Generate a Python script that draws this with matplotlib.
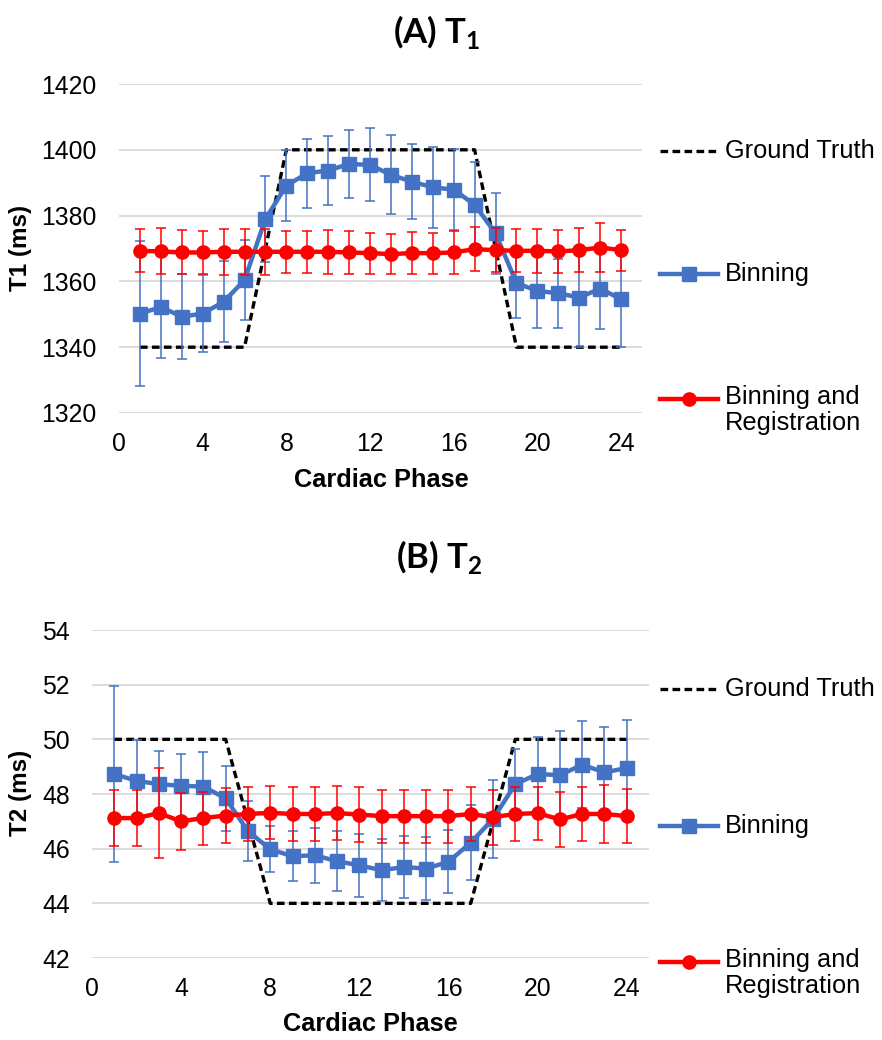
#!/usr/bin/env python3
"""T1 / T2 vs cardiac phase: ground truth, binning, binning + registration."""

import matplotlib
matplotlib.use("Agg")
import matplotlib.pyplot as plt
from matplotlib.lines import Line2D

plt.rcParams["font.family"] = ["Liberation Sans", "DejaVu Sans"]
plt.rcParams["mathtext.fontset"] = "custom"
plt.rcParams["mathtext.rm"] = "Lato"
plt.rcParams["mathtext.bf"] = "Lato:bold"

# ── Data ───────────────────────────────────────────────────────────────────
PHASE = [1, 2, 3, 4, 5, 6, 7, 8, 9, 10, 11, 12,
         13, 14, 15, 16, 17, 18, 19, 20, 21, 22, 23, 24]

T1_TRUTH = [1340, 1340, 1340, 1340, 1340, 1340, 1370, 1400, 1400, 1400, 1400, 1400,
            1400, 1400, 1400, 1400, 1400, 1370, 1340, 1340, 1340, 1340, 1340, 1340]
T1_BIN = [1350.2, 1352.2, 1349.3, 1350.2, 1353.8, 1360.4, 1379.0, 1389.1,
          1392.9, 1393.7, 1395.7, 1395.4, 1392.4, 1390.3, 1388.6, 1387.9,
          1383.3, 1374.6, 1359.5, 1357.1, 1356.4, 1355.1, 1357.8, 1354.6]
T1_BIN_ERR = [22.0, 15.6, 13.0, 11.6, 12.3, 12.2, 13.0, 10.8, 10.5, 10.5, 10.4, 11.1,
              12.0, 11.4, 12.4, 12.2, 13.0, 12.3, 10.5, 11.2, 10.5, 15.1, 12.4, 14.6]
T1_REG = [1369.3, 1369.1, 1368.8, 1368.8, 1369.0, 1369.0, 1369.0, 1369.0,
          1369.0, 1369.0, 1368.8, 1368.6, 1368.3, 1368.6, 1368.6, 1368.8,
          1369.8, 1369.5, 1369.3, 1369.3, 1369.1, 1369.5, 1370.3, 1369.5]
T1_REG_ERR = [6.5, 7.0, 6.7, 6.4, 7.0, 7.0, 7.0, 6.4, 6.4, 6.6, 6.4, 6.2,
              6.2, 6.4, 6.2, 6.4, 6.7, 6.6, 6.5, 6.7, 6.5, 6.7, 7.5, 6.2]

T2_TRUTH = [50, 50, 50, 50, 50, 50, 47, 44, 44, 44, 44, 44,
            44, 44, 44, 44, 44, 47, 50, 50, 50, 50, 50, 50]
T2_BIN = [48.73, 48.48, 48.36, 48.30, 48.27, 47.84, 46.64, 45.98,
          45.72, 45.76, 45.54, 45.39, 45.21, 45.33, 45.27, 45.52,
          46.22, 47.09, 48.36, 48.73, 48.69, 49.07, 48.79, 48.95]
T2_BIN_ERR = [3.22, 1.50, 1.22, 1.15, 1.25, 1.18, 1.10, 0.85, 0.91, 1.00, 1.10, 1.15,
              1.14, 1.15, 1.15, 1.15, 1.38, 1.43, 1.28, 1.37, 1.60, 1.60, 1.66, 1.75]
T2_REG = [47.12, 47.12, 47.30, 47.00, 47.12, 47.21, 47.27, 47.31,
          47.27, 47.27, 47.30, 47.25, 47.19, 47.19, 47.19, 47.19,
          47.27, 47.15, 47.27, 47.30, 47.07, 47.27, 47.27, 47.19]
T2_REG_ERR = [1.04, 1.04, 1.65, 1.05, 0.97, 1.00, 1.00, 0.97, 1.00, 1.00, 1.00, 1.00,
              0.97, 0.97, 0.97, 0.97, 1.00, 1.00, 1.00, 0.97, 1.00, 1.00, 1.05, 1.00]

X_TICKS = [0, 4, 8, 12, 16, 20, 24]
T1_TICKS = [1320, 1340, 1360, 1380, 1400, 1420]
T2_TICKS = [42, 44, 46, 48, 50, 52, 54]

LABELS = ["Ground Truth", "Binning", "Binning and\nRegistration"]

# ── Style ──────────────────────────────────────────────────────────────────
BLUE = "#4472C4"
RED = "#FF0000"
GRID = "#D9D9D9"
W, H = 882, 1040          # figure size in pixels
LW = 3.2
MS = 9.5


def fx(px):
    return px / W


def fy(py):
    return 1 - py / H


def draw_panel(ax, truth, binned, bin_err, reg, reg_err, yticks):
    ax.plot(PHASE, truth, color="black", lw=2.4, dashes=(2.3, 1.3), zorder=2)
    ax.errorbar(PHASE, binned, yerr=bin_err, color=BLUE, lw=LW,
                marker="s", ms=MS, ecolor=BLUE, elinewidth=1.1,
                capsize=3.6, capthick=1.1, zorder=3)
    ax.errorbar(PHASE, reg, yerr=reg_err, color=RED, lw=LW,
                marker="o", ms=MS, ecolor=RED, elinewidth=1.1,
                capsize=3.6, capthick=1.1, zorder=4)
    ax.set_xlim(0, 25)
    ax.set_ylim(yticks[0], yticks[-1])
    ax.set_xticks(X_TICKS)
    ax.set_yticks(yticks)
    ax.tick_params(length=0, labelsize=17.8)
    ax.tick_params(axis="y", pad=16)
    ax.tick_params(axis="x", pad=14)
    ax.yaxis.grid(True, color=GRID, lw=1.3, zorder=0)
    ax.set_axisbelow(True)
    for s in ax.spines.values():
        s.set_visible(False)


def draw_legend(fig, rows_y):
    styles = [
        dict(color="black", lw=2.4, dashes=(2.3, 1.3)),
        dict(color=BLUE, lw=LW, marker="s", ms=MS, markevery=[1]),
        dict(color=RED, lw=LW, marker="o", ms=MS, markevery=[1]),
    ]
    for y, lab, st in zip(rows_y, LABELS, styles):
        fig.add_artist(Line2D([fx(660), fx(689), fx(718)], [fy(y)] * 3, **st))
        if "\n" in lab:
            fig.text(fx(725), fy(y - 14), lab, fontsize=18.3, va="top",
                     ha="left", linespacing=1.12)
        else:
            fig.text(fx(725), fy(y), lab, fontsize=18.3, va="center", ha="left")


fig = plt.figure(figsize=(W / 100, H / 100), dpi=100)

# (A) T1
ax1 = fig.add_axes([fx(119), fy(413), fx(642) - fx(119), fy(84) - fy(413)])
draw_panel(ax1, T1_TRUTH, T1_BIN, T1_BIN_ERR, T1_REG, T1_REG_ERR, T1_TICKS)
fig.text(fx(437), fy(43), r"(A) T$_\mathbf{1}$", family="Lato", weight="bold",
         fontsize=25, ha="center", va="baseline")
fig.text(fx(20), fy(248), "T1 (ms)", rotation=90, fontsize=17.5,
         weight="bold", ha="center", va="center")
fig.text(fx(381), fy(480), "Cardiac Phase", fontsize=18.3, weight="bold",
         ha="center", va="center")
draw_legend(fig, [151, 274, 399])

# (B) T2
ax2 = fig.add_axes([fx(92), fy(958), fx(649) - fx(92), fy(630) - fy(958)])
draw_panel(ax2, T2_TRUTH, T2_BIN, T2_BIN_ERR, T2_REG, T2_REG_ERR, T2_TICKS)
fig.text(fx(439), fy(568), r"(B) T$_\mathbf{2}$", family="Lato", weight="bold",
         fontsize=25, ha="center", va="baseline")
fig.text(fx(20), fy(793), "T2 (ms)", rotation=90, fontsize=17.5,
         weight="bold", ha="center", va="center")
fig.text(fx(370), fy(1024), "Cardiac Phase", fontsize=18.3, weight="bold",
         ha="center", va="center")
draw_legend(fig, [689, 826, 962])

fig.savefig("out.png", dpi=100)
